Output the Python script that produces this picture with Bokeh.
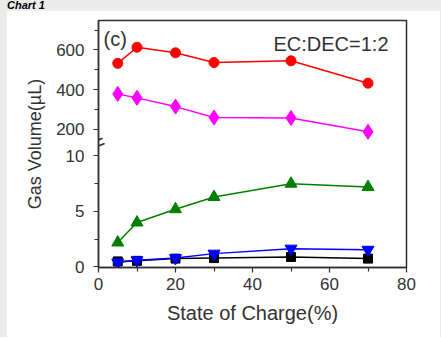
from bokeh.plotting import figure
from bokeh.models import Range1d, FixedTicker, Label, Div
from bokeh.layouts import column
from bokeh.embed import file_html
from bokeh.resources import INLINE

# ---- data ----
soc = [5, 10, 20, 30, 50, 70]
red_vals = [532, 613, 585, 536, 545, 432]
magenta_vals = [378, 358, 314, 259, 257, 187]
green_vals = [2.2, 4.0, 5.2, 6.3, 7.5, 7.2]
blue_vals = [0.4, 0.6, 0.8, 1.2, 1.65, 1.55]
black_vals = [0.5, 0.55, 0.75, 0.8, 0.9, 0.75]

x_ticks = [0, 20, 40, 60, 80]
x_minor = [10, 30, 50, 70]
upper_ticks = [200, 400, 600]
upper_minor = [300, 500, 700]
lower_ticks = [0, 5, 10]
lower_minor = [2.5, 7.5]

x_label = "State of Charge(%)"
y_label = "Gas Volume(µL)"
panel_tag = "(c)"
solvent_tag = "EC:DEC=1:2"
chart_title = "Chart 1"

FONT = "Liberation Sans"
AX = "#303030"
TXT = "#333333"

# broken axis: lower segment on the default range, upper segment on an
# extra range that shares the same frame (break at ~11.2 lower units)
lo_start, lo_end = -0.05, 22.2
up_start, up_end = -497.0, 748.0
BREAK = 11.2


def up_pos(v):
    # position of an upper-range value expressed on the lower range (ticks)
    return lo_start + (v - up_start) * (lo_end - lo_start) / (up_end - up_start)


p = figure(frame_width=308, frame_height=247, output_backend="svg",
           toolbar_location=None, x_range=Range1d(0, 80),
           y_range=Range1d(lo_start, lo_end),
           min_border_left=92, min_border_right=34,
           min_border_top=10, min_border_bottom=70,
           background_fill_color="white", border_fill_color="white",
           outline_line_color=AX, outline_line_width=1.5)
p.extra_y_ranges = {"upper": Range1d(up_start, up_end)}
p.grid.visible = False

tick_pos = lower_ticks + [up_pos(v) for v in upper_ticks]
minor_pos = lower_minor + [up_pos(v) for v in upper_minor]
overrides = {up_pos(v): str(v) for v in upper_ticks}

for ax in (p.xaxis[0], p.yaxis[0]):
    ax.axis_line_color = AX
    ax.axis_line_width = 1.5
    ax.major_tick_line_color = AX
    ax.minor_tick_line_color = AX
    ax.major_tick_line_width = 1.2
    ax.minor_tick_line_width = 1.2
    ax.major_tick_in = 0
    ax.major_tick_out = 5
    ax.minor_tick_in = 0
    ax.minor_tick_out = 4
    ax.major_label_text_font = FONT
    ax.major_label_text_font_size = "17px"
    ax.major_label_text_color = TXT
    ax.axis_label_text_font = FONT
    ax.axis_label_text_font_style = "normal"
    ax.axis_label_text_color = TXT

p.xaxis[0].ticker = FixedTicker(ticks=x_ticks, minor_ticks=x_minor)
p.xaxis[0].axis_label = x_label
p.xaxis[0].axis_label_text_font_size = "20px"
p.xaxis[0].major_label_standoff = 5
p.xaxis[0].axis_label_standoff = 9

p.yaxis[0].ticker = FixedTicker(ticks=tick_pos, minor_ticks=minor_pos)
p.yaxis[0].major_label_overrides = overrides
p.yaxis[0].axis_label = y_label
p.yaxis[0].axis_label_text_font_size = "18px"
p.yaxis[0].major_label_standoff = 9
p.yaxis[0].axis_label_standoff = 8

# lower series
p.line(soc, black_vals, line_color="#000000", line_width=1.5)
p.scatter(soc, black_vals, marker="square", size=9, fill_color="#000000",
          line_color="#000000")
p.line(soc, blue_vals, line_color="#0000ff", line_width=1.5)
p.scatter(soc, blue_vals, marker="inverted_triangle", size=12,
          fill_color="#0000ff", line_color="#0000ff")
p.line(soc, green_vals, line_color="#008000", line_width=1.5)
p.scatter(soc, green_vals, marker="triangle", size=12, fill_color="#008000",
          line_color="#008000")

# upper series
p.line(soc, magenta_vals, line_color="#ff00ff", line_width=1.5,
       y_range_name="upper")
p.scatter(soc, magenta_vals, marker="diamond", size=15, fill_color="#ff00ff",
          line_color="#ff00ff", y_range_name="upper")
p.line(soc, red_vals, line_color="#ff0000", line_width=1.5,
       y_range_name="upper")
p.scatter(soc, red_vals, marker="circle", size=10, fill_color="#ff0000",
          line_color="#ff0000", y_range_name="upper")

p.add_layout(Label(x=5, y=229, x_units="screen", y_units="screen",
                   text=panel_tag, text_font=FONT, text_font_size="20px",
                   text_color=TXT, text_align="left", text_baseline="middle"))
p.add_layout(Label(x=290, y=224, x_units="screen", y_units="screen",
                   text=solvent_tag, text_font=FONT, text_font_size="20px",
                   text_color=TXT, text_align="right", text_baseline="middle"))

# axis break mark
p.add_layout(Label(x=0, y=BREAK, text="=", text_font=FONT,
                   text_font_size="22px", text_color=AX, angle=0.38,
                   text_align="center", text_baseline="middle",
                   level="overlay"))

header = Div(text=chart_title, width=434, height=10, margin=(0, 0, 0, 1),
             styles={"font-family": "Liberation Sans", "font-size": "11px",
                     "font-weight": "bold", "font-style": "italic",
                     "line-height": "10px", "color": "#000000",
                     "overflow": "visible"})

page = column(header, p, spacing=0,
              styles={"background-color": "#ebebeb", "padding-left": "6px"})
open("out.html", "w").write(file_html(page, INLINE))
